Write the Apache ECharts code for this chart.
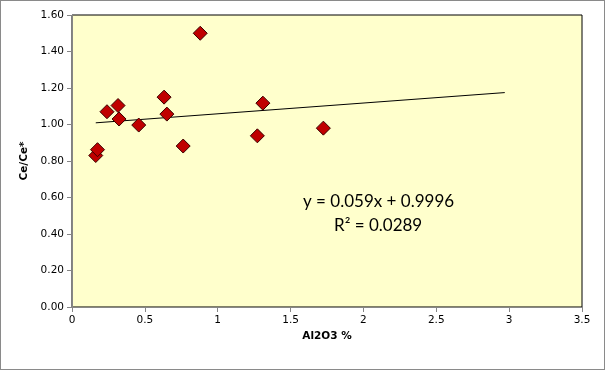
<!DOCTYPE html>
<html><head><meta charset="utf-8">
<script src="https://cdn.jsdelivr.net/npm/echarts@6/dist/echarts.min.js"></script>
<style>
html,body{margin:0;padding:0;background:#fff;}
#c{width:605px;height:370px;box-sizing:border-box;border:1px solid #8a8a8a;}
</style></head><body>
<div id="c"></div>
<script>
const alumina = [0.163, 0.175, 0.24, 0.316, 0.323, 0.458, 0.632, 0.651, 0.763, 0.88, 1.272, 1.31, 1.725];
const ceRatio = [0.83, 0.862, 1.07, 1.104, 1.03, 0.997, 1.15, 1.057, 0.882, 1.50, 0.938, 1.117, 0.98];
const trendX = [0.163, 2.97];
const slope = 0.059, intercept = 0.9996;
const eqText = ['y = 0.059x + 0.9996', 'R² = 0.0289'];

const chart = echarts.init(document.getElementById('c'));
const pts = alumina.map((x, i) => [x, ceRatio[i]]);
const trend = trendX.map(x => [x, slope * x + intercept]);
const axisLbl = {fontFamily: 'DejaVu Sans', fontSize: 10.5, color: '#000'};
chart.setOption({
  animation: false,
  grid: {left: 71, right: 22, top: 14, bottom: 62, show: true, backgroundColor: '#FFFFCC', borderColor: '#000', borderWidth: 1},
  xAxis: {type: 'value', min: 0, max: 3.5, interval: 0.5,
    name: 'Al2O3 %', nameLocation: 'middle', nameGap: 23,
    nameTextStyle: {fontFamily: 'DejaVu Sans', fontSize: 10.5, fontWeight: 'bold', color: '#000'},
    axisLine: {show: true, lineStyle: {color: '#868686'}},
    axisTick: {show: true, length: 5, lineStyle: {color: '#868686'}},
    axisLabel: Object.assign({margin: 8}, axisLbl),
    splitLine: {show: false}},
  yAxis: {type: 'value', min: 0, max: 1.6, interval: 0.2,
    name: 'Ce/Ce*', nameLocation: 'middle', nameGap: 40,
    nameTextStyle: {fontFamily: 'DejaVu Sans', fontSize: 10.5, fontWeight: 'bold', color: '#000'},
    axisLine: {show: true, lineStyle: {color: '#868686'}},
    axisTick: {show: true, length: 5, lineStyle: {color: '#868686'}},
    axisLabel: Object.assign({margin: 8, formatter: v => v.toFixed(2)}, axisLbl),
    splitLine: {show: false}},
  series: [
    {type: 'line', data: trend, symbol: 'none', lineStyle: {color: '#000', width: 1}, z: 2},
    {type: 'scatter', data: pts, symbol: 'diamond', symbolSize: 14,
      itemStyle: {color: '#C00000', opacity: 1, borderColor: '#3a0000', borderWidth: 1}, z: 3}
  ],
  graphic: [
    {type: 'text', left: 302, top: 192, style: {text: eqText[0], fontFamily: 'Lato', fontSize: 17, fill: '#000'}},
    {type: 'text', left: 333, top: 216, style: {text: eqText[1], fontFamily: 'Lato', fontSize: 17, fill: '#000'}}
  ]
});
</script></body></html>
